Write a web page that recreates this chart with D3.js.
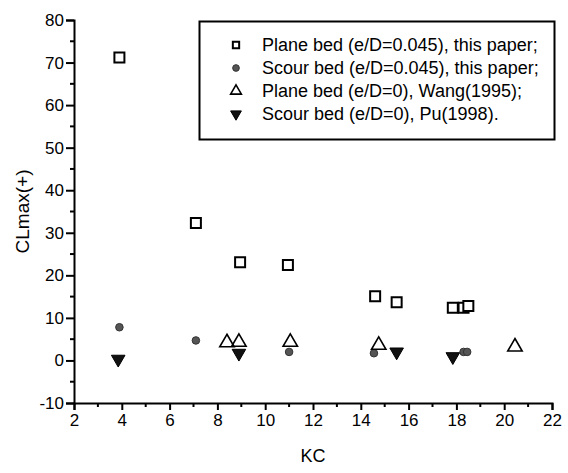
<!DOCTYPE html>
<html><head><meta charset="utf-8">
<script src="https://cdn.jsdelivr.net/npm/d3@7"></script>
<style>
html,body{margin:0;padding:0;background:#fff;}
svg{display:block;font-family:"Liberation Sans",Arial,sans-serif;}
</style></head>
<body><div id="chart"></div>
<script>
// ---- data ----
const xTicks = [2,4,6,8,10,12,14,16,18,20,22];
const yTicks = [-10,0,10,20,30,40,50,60,70,80];
const legendLabels = [
  "Plane bed (e/D=0.045), this paper;",
  "Scour bed (e/D=0.045), this paper;",
  "Plane bed (e/D=0), Wang(1995);",
  "Scour bed (e/D=0), Pu(1998)."
];
const planeKC   = [3.9, 7.1, 8.95, 10.95, 14.6, 15.5, 17.85, 18.3, 18.5];
const planeCL   = [71.2, 32.3, 23.1, 22.4, 15.1, 13.7, 12.4, 12.4, 12.8];
const scourKC   = [3.9, 7.1, 11.0, 14.55, 18.3, 18.45];
const scourCL   = [7.8, 4.7, 2.0, 1.7, 2.0, 2.0];
const wangKC    = [8.4, 8.9, 11.05, 14.75, 20.45];
const wangCL    = [4.2, 4.3, 4.3, 3.6, 3.2];
const puKC      = [3.85, 8.9, 15.5, 17.85];
const puCL      = [0.3, 1.7, 2.0, 0.9];

const W = 568, H = 473;
const m = {left:74, right:16, top:20, bottom:70};
const svg = d3.select("#chart").append("svg").attr("width",W).attr("height",H);

const x = d3.scaleLinear().domain([2,22]).range([m.left, W-m.right]);
const y = d3.scaleLinear().domain([-10,80]).range([H-m.bottom, m.top]);

// axes
const xAxis = d3.axisBottom(x).tickValues(xTicks).tickSize(7).tickPadding(4).tickFormat(d=>String(d));
const yAxis = d3.axisLeft(y).tickValues(yTicks).tickSize(8).tickPadding(2).tickFormat(d=>String(d));
const gx = svg.append("g").attr("transform",`translate(0,${y(-10)})`).call(xAxis);
const gy = svg.append("g").attr("transform",`translate(${x(2)},0)`).call(yAxis);
[gx,gy].forEach(g=>{
  g.select(".domain").attr("stroke","#000").attr("stroke-width",2);
  g.selectAll(".tick line").attr("stroke","#000").attr("stroke-width",2);
  g.selectAll(".tick text").attr("fill","#000").attr("font-size",17).attr("font-family","Liberation Sans, Arial, sans-serif");
});
// minor ticks
const xMinor = d3.range(3,22,2);
const yMinor = d3.range(-5,80,10);
svg.append("g").selectAll("line").data(xMinor).join("line")
  .attr("x1",d=>x(d)).attr("x2",d=>x(d)).attr("y1",y(-10)).attr("y2",y(-10)+4)
  .attr("stroke","#000").attr("stroke-width",2);
svg.append("g").selectAll("line").data(yMinor).join("line")
  .attr("x1",x(2)-4).attr("x2",x(2)).attr("y1",d=>y(d)).attr("y2",d=>y(d))
  .attr("stroke","#000").attr("stroke-width",2);

// axis titles
svg.append("text").attr("x",x(12)).attr("y",462).attr("text-anchor","middle")
  .attr("font-size",18).attr("fill","#000").text("KC");
svg.append("text").attr("transform",`translate(29,${y(35)}) rotate(-90)`).attr("text-anchor","middle")
  .attr("font-size",19).attr("fill","#000").text("CLmax(+)");

// symbols
const sq = d3.symbol().type(d3.symbolSquare).size(100);
const ci = d3.symbol().type(d3.symbolCircle).size(45);
const tri = d3.symbol().type(d3.symbolTriangle).size(90);
const itri = d3.symbol().type(d3.symbolTriangle).size(80);

function draw(kc, cl, gen, style, rot){
  svg.append("g").selectAll("path").data(kc.map((k,i)=>[k,cl[i]])).join("path")
    .attr("d",gen())
    .attr("transform",d=>`translate(${x(d[0])},${y(d[1])})${rot?" rotate(180)":""}`)
    .attr("fill",style.fill).attr("stroke",style.stroke).attr("stroke-width",style.sw);
}
const styles = [
  {gen:sq, fill:"#fff", stroke:"#000", sw:2, rot:false},
  {gen:ci, fill:"#555", stroke:"#333", sw:1, rot:false},
  {gen:tri, fill:"none", stroke:"#000", sw:1.6, rot:false},
  {gen:itri, fill:"#111", stroke:"#000", sw:1, rot:true}
];
draw(planeKC, planeCL, styles[0].gen, styles[0], false);
draw(scourKC, scourCL, styles[1].gen, styles[1], false);
draw(wangKC, wangCL, styles[2].gen, styles[2], false);
draw(puKC, puCL, styles[3].gen, styles[3], true);

// legend
const lg = svg.append("g");
lg.append("rect").attr("x",199.5).attr("y",21.5).attr("width",355).attr("height",118)
  .attr("fill","#fff").attr("stroke","#000").attr("stroke-width",2);
const rowY = [45, 68, 91, 114];
legendLabels.forEach((t,i)=>{
  const s = styles[i];
  const small = [d3.symbol().type(d3.symbolSquare).size(40), d3.symbol().type(d3.symbolCircle).size(35),
                 d3.symbol().type(d3.symbolTriangle).size(50), d3.symbol().type(d3.symbolTriangle).size(50)][i];
  lg.append("path").attr("d",small())
    .attr("transform",`translate(236,${rowY[i]})${s.rot?" rotate(180)":""}`)
    .attr("fill",s.fill).attr("stroke",s.stroke).attr("stroke-width",s.sw);
  lg.append("text").attr("x",262).attr("y",rowY[i]+6).attr("font-size",18).attr("fill","#000").text(t);
});
</script></body></html>
